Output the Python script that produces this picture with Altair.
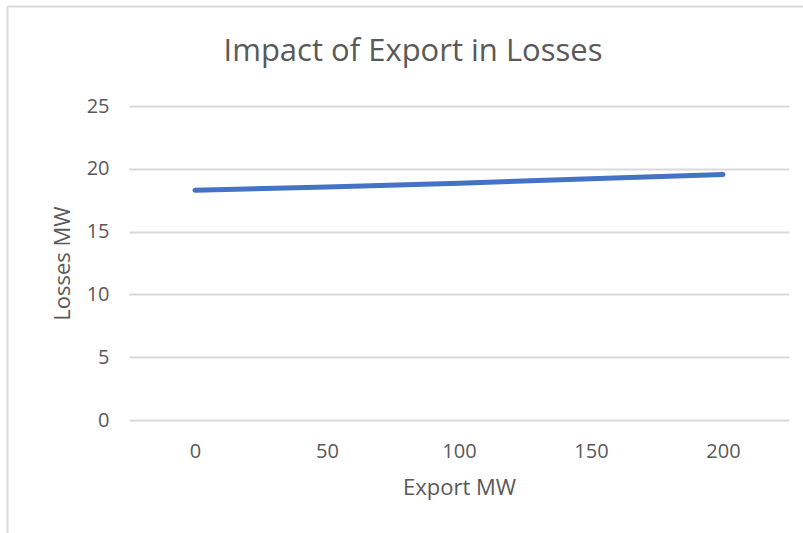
import altair as alt
import pandas as pd

export_mw = [0, 50, 100, 150, 200]
losses_mw = [18.3, 18.55, 18.85, 19.2, 19.55]

df = pd.DataFrame({"Export MW": export_mw, "Losses MW": losses_mw})

FONT = "Open Sans"
GREY = "#595959"
BORDER = "#D9D9D9"

line = alt.Chart(df).mark_line(
    color="#4472C4", strokeWidth=5, strokeCap="round", strokeJoin="round"
).encode(
    x=alt.X("Export MW:O", sort=export_mw,
            scale=alt.Scale(type="point", padding=0.5),
            axis=alt.Axis(title="Export MW", labelAngle=0, domain=False, ticks=False,
                          grid=False, labelPadding=21, titlePadding=16)),
    y=alt.Y("Losses MW:Q", scale=alt.Scale(domain=[0, 25]),
            axis=alt.Axis(title="Losses MW", values=[0, 5, 10, 15, 20, 25],
                          domain=False, ticks=False, labelPadding=20, titlePadding=12,
                          gridColor=BORDER, gridWidth=2)),
)

frame_df = pd.DataFrame({"k": [0]})
left_edge = alt.Chart(frame_df).mark_rule(color=BORDER, strokeWidth=2).encode(
    x=alt.value(-121.5), y=alt.value(-99.5), y2=alt.value(440))
top_edge = alt.Chart(frame_df).mark_rule(color=BORDER, strokeWidth=2).encode(
    x=alt.value(-121.5), x2=alt.value(700), y=alt.value(-99.5))

chart = alt.layer(line, left_edge, top_edge).properties(
    width=660, height=314,
    title=alt.TitleParams("Impact of Export in Losses", anchor="middle", frame="group",
                          fontSize=31, font=FONT, color=GREY, fontWeight="normal",
                          offset=-62.5, dx=-46),
    autosize=alt.AutoSizeParams(type="none"),
    padding={"left": 129, "top": 106, "right": 14, "bottom": 113},
).configure_axis(
    labelFont=FONT, labelFontSize=20, labelColor=GREY,
    titleFont=FONT, titleFontSize=22, titleColor=GREY, titleFontWeight="normal",
).configure_view(stroke=None)

chart.save("out.html", embed_options={"renderer": "svg", "actions": False})
